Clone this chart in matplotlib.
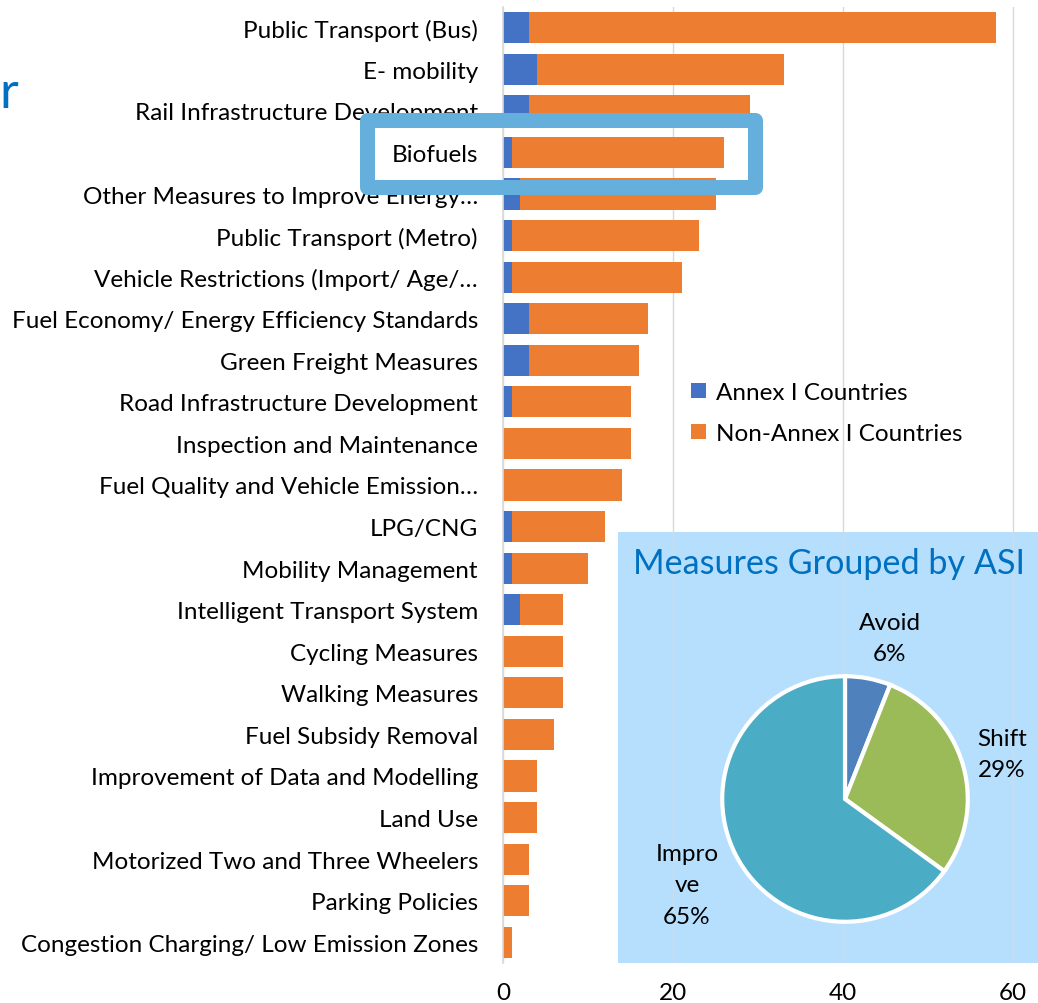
import matplotlib.pyplot as plt
from matplotlib.patches import Rectangle

plt.rcParams['font.family'] = ['Lato', 'DejaVu Sans']

# ---- data ----
categories = ['Public Transport (Bus)', 'E- mobility', 'Rail Infrastructure Development', 'Biofuels',
              'Other Measures to Improve Energy…', 'Public Transport (Metro)',
              'Vehicle Restrictions (Import/ Age/…', 'Fuel Economy/ Energy Efficiency Standards',
              'Green Freight Measures', 'Road Infrastructure Development', 'Inspection and Maintenance',
              'Fuel Quality and Vehicle Emission…', 'LPG/CNG', 'Mobility Management',
              'Intelligent Transport System', 'Cycling Measures', 'Walking Measures', 'Fuel Subsidy Removal',
              'Improvement of Data and Modelling', 'Land Use', 'Motorized Two and Three Wheelers',
              'Parking Policies', 'Congestion Charging/ Low Emission Zones']
annex = [3, 4, 3, 1, 2, 1, 1, 3, 3, 1, 0, 0, 1, 1, 2, 0, 0, 0, 0, 0, 0, 0, 0]
non_annex = [55, 29, 26, 25, 23, 22, 20, 14, 13, 14, 15, 14, 11, 9, 5, 7, 7, 6, 4, 4, 3, 3, 1]
series_names = ['Annex I Countries', 'Non-Annex I Countries']
x_ticks = [0, 20, 40, 60]

asi_names = ['Avoid', 'Shift', 'Improve']
asi_labels = ['Avoid', 'Shift', 'Impro\nve']
asi_pct = [6, 29, 65]

BLUE = '#4472c4'
ORANGE = '#ed7d31'
GRID = '#d9d9d9'
FS = 17.5
W, H = 1038, 1004


def fx(px):
    return px / W


def fy(py):
    return 1 - py / H


fig = plt.figure(figsize=(W / 100, H / 100), dpi=100)
ax = fig.add_axes([fx(503), fy(964), fx(1038 - 503), (964 - 8) / H])

y = list(range(len(categories)))
b1 = ax.barh(y, annex, height=0.75, color=BLUE, label=series_names[0])
b2 = ax.barh(y, non_annex, left=annex, height=0.75, color=ORANGE, label=series_names[1])

ax.set_ylim(len(categories) - 0.5, -0.5)
ax.set_xlim(0, (1038 - 503) / 8.5)
ax.set_yticks(y)
ax.set_yticklabels(categories, fontsize=FS)
ax.set_xticks(x_ticks)
ax.tick_params(axis='both', length=0, labelsize=FS)
ax.tick_params(axis='y', pad=18)
ax.tick_params(axis='x', pad=14)
ax.set_axisbelow(True)
ax.grid(axis='x', color=GRID, linewidth=1)
for s in ['top', 'right', 'bottom']:
    ax.spines[s].set_visible(False)
ax.spines['left'].set_color(GRID)
ax.spines['left'].set_linewidth(1.2)

# inset background for the pie
ax.add_patch(Rectangle((fx(618), fy(964)), fx(1038 - 618) + 0.01, (964 - 533) / H,
                       transform=fig.transFigure, facecolor='#b5dffc', edgecolor='none',
                       zorder=0.3, clip_on=False))

ax.legend(handles=[b1, b2], loc='upper left', bbox_to_anchor=(fx(691), fy(383)),
          bbox_transform=fig.transFigure, frameon=False, fontsize=FS,
          handlelength=0.62, handleheight=0.62, handletextpad=0.4,
          labelspacing=0.82, borderpad=0, borderaxespad=0)

# highlight box around Biofuels
fig.patches.append(Rectangle((fx(366.5), fy(187.5)), fx(755 - 366.5), (187.5 - 120.5) / H,
                             transform=fig.transFigure, fill=False, edgecolor='#64afdb',
                             linewidth=10.8, joinstyle='round', zorder=5))

# cropped title fragment at left
fig.text(fx(18), fy(108), 'r', color='#0070c0', fontsize=37, ha='right', va='baseline')

# pie inset
fig.text(fx(829), fy(564), 'Measures Grouped by ASI', color='#0070c0', fontsize=24.6,
         ha='center', va='center')
r = 124
pax = fig.add_axes([fx(845 - r), fy(800 + r), 2 * r / W, 2 * r / H])
pax.pie(asi_pct, colors=['#4f81bd', '#9bbb59', '#4bacc6'], startangle=90, counterclock=False,
        wedgeprops=dict(edgecolor='white', linewidth=3))
pax.set_xlim(-1.01, 1.01)
pax.set_ylim(-1.01, 1.01)
pax.set_aspect('equal')

label_pos = [(890, 639), (1002, 755), (687, 886)]
for lab, pct, (px, py) in zip(asi_labels, asi_pct, label_pos):
    fig.text(fx(px), fy(py), f'{lab}\n{pct}%', fontsize=FS, ha='center', va='center',
             linespacing=1.6)

fig.savefig('out.png', dpi=100)
